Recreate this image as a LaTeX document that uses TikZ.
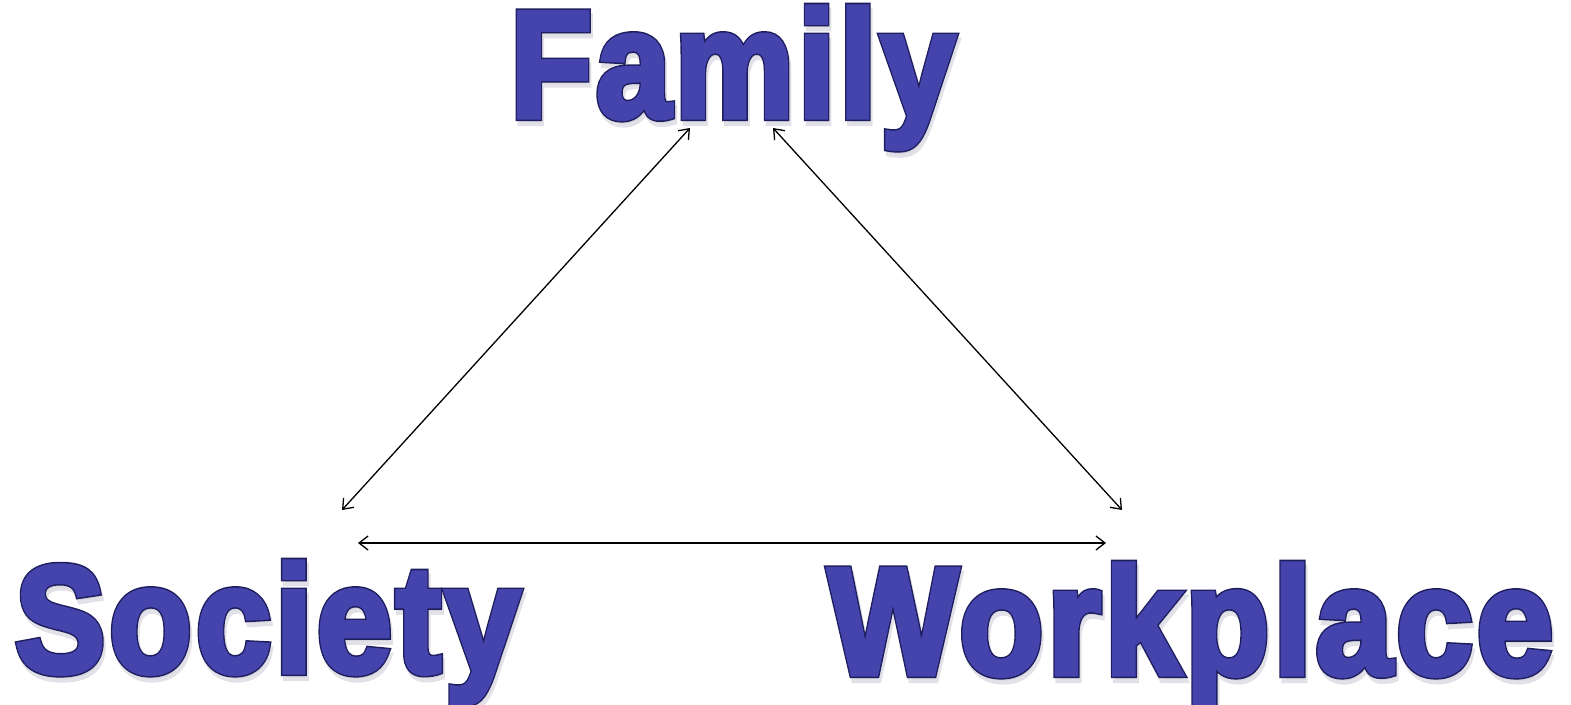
\documentclass[tikz,border=0pt]{standalone}
\usepackage{fontspec}
\usepackage{graphicx}
\usetikzlibrary{arrows.meta}
\newfontfamily\heavyfont{Liberation Sans Bold}[FakeBold=5.4,LetterSpace=3]
\newfontfamily\fillfont{Liberation Sans Bold}[FakeBold=3.4,LetterSpace=3]
\definecolor{wordblue}{RGB}{68,68,172}
\definecolor{wordedge}{RGB}{30,30,95}
\definecolor{shadowgray}{RGB}{200,200,212}
\newcommand{\fitword}[2]{\resizebox{#1}{\height}{#2}}
\tikzset{
  wordbase/.style={inner sep=0pt, anchor=base west},
  word/.style={wordbase, text=wordedge, font=\heavyfont\fontsize{152}{152}\selectfont},
  wordfill/.style={wordbase, text=wordblue, font=\fillfont\fontsize{152}{152}\selectfont},
  wordshadow/.style={word, text=shadowgray, opacity=0.55},
  link/.style={line width=1.3pt, {Straight Barb[length=9pt,width=14pt]}-{Straight Barb[length=9pt,width=14pt]}}
}
\begin{document}
\begin{tikzpicture}[x=1pt,y=-1pt]
\useasboundingbox (0,0) rectangle (1571,704);
% shadows
\node[wordshadow] (famS) at (512,122) {\fitword{445pt}{Family}};
\node[wordshadow] (socS) at (17,677) {\fitword{505pt}{Society}};
\node[wordshadow] (workS) at (830,679) {\fitword{725pt}{Workplace}};
% words (dark edge)
\node[word] (fam) at (510,117) {\fitword{445pt}{Family}};
\node[word] (soc) at (15,672) {\fitword{505pt}{Society}};
\node[word] (work) at (828,674) {\fitword{725pt}{Workplace}};
% words (fill)
\node[wordfill] (famF) at (fam.base west) {\fitword{445pt}{Family}};
\node[wordfill] (socF) at (soc.base west) {\fitword{505pt}{Society}};
\node[wordfill] (workF) at (work.base west) {\fitword{725pt}{Workplace}};
% arrow end points
\coordinate (fl) at (690,128);
\coordinate (fr) at (773,128);
\coordinate (sl) at (342,510);
\coordinate (wr) at (1122,510);
\coordinate (sh) at (358,543);
\coordinate (wh) at (1106,543);
\draw[link] (fl) -- (sl);
\draw[link] (fr) -- (wr);
\draw[link] (sh) -- (wh);
\end{tikzpicture}
\end{document}
